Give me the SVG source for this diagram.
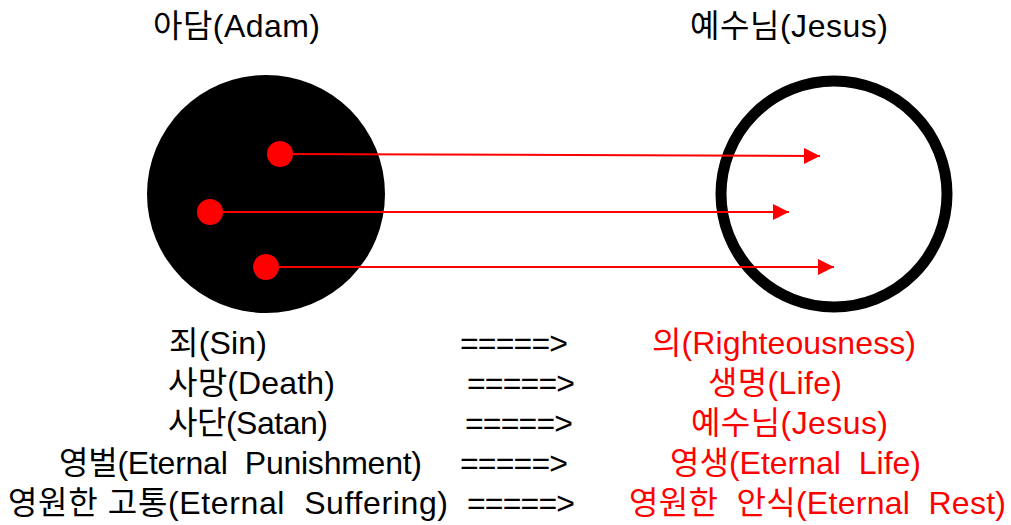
<svg xmlns="http://www.w3.org/2000/svg" width="1011" height="525" viewBox="0 0 1011 525">
<style>
text{font-family:"Liberation Sans","Noto Sans CJK KR",sans-serif;font-size:32px;fill:#000;white-space:pre}
.r{fill:#FF0000}
.conn{stroke:#FF0000;stroke-width:2;fill:none}
.dot{fill:#FF0000}
</style>
<defs>
<marker id="ah" markerUnits="userSpaceOnUse" markerWidth="17" markerHeight="16" refX="16" refY="8" orient="auto">
<path d="M0,0 L16,8 L0,16 Z" fill="#FF0000"/>
</marker>
</defs>
<rect width="1011" height="525" fill="#fff"/>
<g id="adam">
<circle cx="266" cy="194" r="119" fill="#000"/>
<text x="153" y="37" textLength="167" lengthAdjust="spacing">아담(Adam)</text>
</g>
<g id="jesus">
<circle cx="834" cy="194" r="113" fill="none" stroke="#000" stroke-width="11"/>
<text x="690" y="37" textLength="198" lengthAdjust="spacing">예수님(Jesus)</text>
</g>
<g id="dots">
<circle class="dot" cx="280" cy="154" r="13"/>
<circle class="dot" cx="210" cy="212" r="13"/>
<circle class="dot" cx="266" cy="267" r="13"/>
</g>
<g id="connectors">
<line class="conn" x1="280" y1="154" x2="820" y2="156" marker-end="url(#ah)"/>
<line class="conn" x1="210" y1="212" x2="789" y2="212" marker-end="url(#ah)"/>
<line class="conn" x1="266" y1="267" x2="834" y2="267" marker-end="url(#ah)"/>
</g>
<g id="left-list">
<text x="169" y="354" textLength="98" lengthAdjust="spacing">죄(Sin)</text>
<text x="168" y="394" textLength="167" lengthAdjust="spacing">사망(Death)</text>
<text x="168" y="434" textLength="160" lengthAdjust="spacing">사단(Satan)</text>
<text x="59" y="474" textLength="363" lengthAdjust="spacing">영벌(Eternal  Punishment)</text>
<text x="8" y="514" textLength="440" lengthAdjust="spacing">영원한 고통(Eternal  Suffering)</text>
</g>
<g id="arrows-text">
<text x="460" y="354" textLength="108" lengthAdjust="spacing">=====&gt;</text>
<text x="467" y="394" textLength="108" lengthAdjust="spacing">=====&gt;</text>
<text x="465" y="434" textLength="108" lengthAdjust="spacing">=====&gt;</text>
<text x="460" y="474" textLength="108" lengthAdjust="spacing">=====&gt;</text>
<text x="467" y="514" textLength="108" lengthAdjust="spacing">=====&gt;</text>
</g>
<g id="right-list">
<text class="r" x="652" y="354" textLength="264" lengthAdjust="spacing">의(Righteousness)</text>
<text class="r" x="708" y="394" textLength="134" lengthAdjust="spacing">생명(Life)</text>
<text class="r" x="691" y="434" textLength="197" lengthAdjust="spacing">예수님(Jesus)</text>
<text class="r" x="670" y="474" textLength="251" lengthAdjust="spacing">영생(Eternal  Life)</text>
<text class="r" x="629" y="514" textLength="377" lengthAdjust="spacing">영원한  안식(Eternal  Rest)</text>
</g>
</svg>
